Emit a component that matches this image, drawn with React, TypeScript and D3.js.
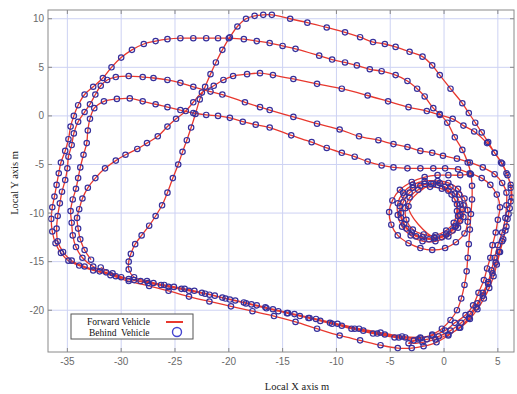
import React from 'react';
import * as d3 from 'd3';

// chart size / plot box
const W = 517,
  H = 394;
const box = { left: 48, right: 514, top: 10, bottom: 352 };

// axes
const xDomain = [-36.8, 6.5];
const yDomain = [-24.3, 10.9];
const xTicks = [-35, -30, -25, -20, -15, -10, -5, 0, 5];
const yTicks = [-20, -15, -10, -5, 0, 5, 10];

// trajectory, local metres [x, y]
const lap1 = [
  [-2.4, -23.0], [-4.2, -22.8], [-6.2, -22.4], [-8.3, -21.9], [-10.4, -21.4], [-12.5, -20.8],
  [-14.5, -20.3], [-16.5, -19.8], [-18.4, -19.3], [-20.3, -18.8], [-22.2, -18.3], [-24.1, -17.8],
  [-26.0, -17.4], [-27.6, -17.0], [-28.8, -16.6], [-29.3, -15.8], [-29.3, -15.0], [-29.1, -14.2],
  [-28.7, -13.2], [-28.1, -12.3], [-27.4, -11.3], [-26.8, -10.3], [-26.2, -9.2], [-25.7, -7.9],
  [-25.2, -6.4], [-24.7, -5.0], [-24.3, -3.7], [-23.9, -2.5], [-23.5, -1.2], [-23.1, 0.2],
  [-22.7, 1.7], [-22.2, 3.0], [-21.7, 4.3], [-21.2, 5.5], [-20.6, 6.8], [-19.9, 8.1],
  [-19.2, 9.2], [-18.4, 10.0], [-17.6, 10.3], [-16.8, 10.4], [-16.0, 10.4], [-14.3, 10.0],
  [-12.7, 9.6], [-10.9, 9.1], [-9.2, 8.6], [-7.8, 8.1], [-6.6, 7.6], [-5.5, 7.4],
  [-4.5, 7.1], [-3.2, 6.6], [-2.0, 6.1], [-1.1, 5.2], [-0.4, 4.2], [0.6, 2.8],
  [1.7, 1.3], [2.3, 0.3], [2.9, -0.7], [3.5, -1.7], [4.1, -2.7], [4.7, -3.8],
  [5.3, -4.8], [5.8, -5.9], [6.2, -7.1], [6.3, -8.4], [6.1, -9.5], [5.9, -10.6],
  [5.7, -11.8], [5.4, -12.9], [5.1, -14.0], [4.8, -15.1], [4.5, -16.2], [4.1, -17.3],
  [3.6, -18.5], [3.0, -19.7], [2.3, -20.8], [1.4, -21.8], [0.4, -22.6], [-0.7, -23.3],
  [-1.9, -23.7], [-3.0, -23.9], [-4.3, -23.9], [-5.9, -23.6], [-7.8, -23.1], [-9.7, -22.6],
  [-11.8, -21.9], [-13.8, -21.2], [-15.8, -20.6], [-17.8, -20.1], [-19.8, -19.6], [-21.8, -19.1],
  [-23.7, -18.6], [-25.6, -18.0], [-27.4, -17.5],
];

const lap2 = [
  [-29.3, -17.0], [-31.0, -16.4], [-32.6, -15.9], [-33.9, -15.4], [-34.9, -14.9], [-35.6, -14.1],
  [-36.1, -13.1], [-36.4, -11.9], [-36.5, -10.6], [-36.4, -9.4], [-36.2, -8.3], [-36.0, -7.1],
  [-35.8, -5.9], [-35.6, -4.8], [-35.2, -3.6], [-34.9, -2.4], [-34.7, -1.1], [-34.4, 0.0],
  [-34.0, 1.1], [-33.4, 2.2], [-32.6, 3.0], [-31.7, 3.9], [-30.9, 5.0], [-30.0, 6.0],
  [-29.0, 6.8], [-27.9, 7.4], [-26.8, 7.7], [-25.7, 7.9], [-24.5, 8.0], [-23.3, 8.0],
  [-22.1, 8.0], [-21.0, 8.0], [-20.0, 8.0], [-18.6, 7.9], [-17.4, 7.7], [-16.2, 7.5],
  [-15.0, 7.2], [-13.8, 6.9], [-11.6, 6.2], [-10.4, 5.8], [-9.2, 5.5], [-8.1, 5.2],
  [-6.9, 4.8], [-5.8, 4.6], [-4.5, 4.2], [-3.4, 3.6], [-2.5, 2.8], [-1.8, 2.0],
  [-1.0, 0.8], [-0.4, 0.2], [0.3, -0.7], [1.0, -2.2], [1.7, -3.5], [2.2, -4.8],
  [2.5, -6.0], [2.6, -7.2], [2.6, -8.6], [2.5, -10.1], [2.4, -11.7], [2.3, -13.2],
  [2.2, -14.6], [2.1, -16.0], [1.9, -17.4], [1.6, -18.8], [1.2, -20.0], [0.6, -21.0],
  [-0.2, -21.9], [-1.1, -22.5], [-2.2, -22.9], [-3.6, -22.8], [-5.5, -22.5], [-7.5, -22.1],
  [-9.5, -21.6], [-11.5, -21.1], [-13.4, -20.6], [-15.4, -20.1], [-17.4, -19.5], [-19.4, -19.0],
  [-21.3, -18.5], [-23.2, -18.0], [-25.1, -17.6], [-27.0, -17.2], [-28.8, -16.9], [-30.5, -16.5],
  [-32.0, -16.0],
];

const lap3 = [
  [-33.4, -15.5], [-34.6, -14.9], [-35.4, -14.0], [-35.9, -12.9], [-36.0, -11.6], [-35.9, -10.3],
  [-35.7, -9.0], [-35.5, -7.8], [-35.2, -6.6], [-35.0, -5.4], [-34.9, -4.2], [-34.6, -3.0],
  [-34.4, -1.8], [-34.0, -0.6], [-33.4, 0.4], [-32.9, 1.2], [-32.4, 2.2], [-31.9, 3.1],
  [-31.3, 3.7], [-30.5, 4.0], [-29.3, 4.1], [-28.0, 4.0], [-27.0, 3.9], [-25.7, 3.7],
  [-24.5, 3.4], [-23.3, 3.0], [-21.7, 2.5], [-20.6, 2.2], [-18.5, 1.4], [-17.1, 0.9],
  [-16.2, 0.6], [-14.0, -0.1], [-11.8, -0.8], [-9.7, -1.4], [-7.9, -2.1], [-6.1, -2.5],
  [-4.7, -2.9], [-3.4, -3.2], [-2.2, -3.6], [-1.1, -3.8], [-0.1, -4.1], [1.2, -4.4],
  [2.4, -4.8], [3.6, -5.3], [4.7, -6.0], [5.4, -6.9], [5.8, -7.9], [5.8, -9.2],
  [5.7, -10.5], [5.4, -12.0], [5.0, -13.3], [4.7, -14.6], [4.4, -15.9], [4.1, -17.1],
  [3.6, -18.2], [3.1, -19.3], [2.4, -20.4], [1.6, -21.3], [0.6, -22.1], [-0.5, -22.7],
  [-1.6, -23.0], [-2.8, -23.1], [-4.6, -22.8], [-6.6, -22.4], [-8.6, -21.9], [-10.6, -21.3],
  [-12.6, -20.8], [-14.6, -20.3], [-16.6, -19.7], [-18.6, -19.2], [-20.6, -18.7], [-22.5, -18.2],
  [-24.4, -17.8], [-26.3, -17.4], [-28.2, -17.0], [-30.0, -16.6], [-31.4, -16.1], [-32.6, -15.5],
];

const lap4 = [
  [-33.6, -14.6], [-34.2, -13.5], [-34.5, -12.3], [-34.6, -11.0], [-34.7, -9.8], [-34.5, -8.6],
  [-34.2, -7.5], [-34.0, -6.4], [-33.8, -5.3], [-33.5, -4.0], [-33.2, -2.8], [-33.1, -1.5],
  [-32.9, -0.3], [-32.5, 0.8], [-31.6, 1.5], [-30.4, 1.75], [-29.2, 1.8], [-28.0, 1.5],
  [-26.8, 1.2], [-25.7, 0.9], [-24.5, 0.6], [-23.3, 0.3], [-22.1, 0.1], [-21.0, 0.0],
  [-19.9, -0.2], [-18.7, -0.6], [-17.5, -0.9], [-16.2, -1.2], [-14.2, -2.0], [-12.3, -2.7],
  [-10.9, -3.3], [-9.5, -3.8], [-8.3, -4.2], [-7.1, -4.7], [-5.8, -5.1], [-4.7, -5.3],
  [-3.4, -5.4], [-2.2, -5.4], [-1.0, -5.4], [0.1, -5.4], [1.3, -5.5], [2.4, -5.9],
  [3.5, -6.4], [4.3, -7.1], [4.9, -8.1], [5.2, -9.4], [5.0, -10.7], [4.8, -12.0],
  [4.5, -13.3], [4.3, -14.6], [4.0, -15.7], [3.7, -16.9], [3.2, -18.2], [2.7, -19.5],
  [2.0, -20.5], [1.0, -21.3], [0.1, -22.1], [-1.1, -22.6], [-2.2, -22.8], [-3.9, -22.7],
  [-5.9, -22.3], [-7.9, -21.9], [-9.9, -21.4], [-11.9, -20.9], [-13.9, -20.4], [-15.9, -19.9],
  [-17.9, -19.4], [-19.9, -18.9], [-21.8, -18.4], [-23.7, -18.0], [-25.6, -17.6], [-27.5, -17.2],
  [-29.3, -16.8], [-30.8, -16.2], [-31.9, -15.6],
];

const lap5 = [
  [-32.8, -14.8], [-33.4, -13.8], [-33.8, -12.7], [-34.0, -11.6], [-34.1, -10.5], [-33.9, -9.6],
  [-33.6, -8.5], [-33.1, -7.4], [-32.4, -6.4], [-31.5, -5.4], [-30.5, -4.6], [-29.6, -4.0],
  [-28.5, -3.4], [-27.6, -2.8], [-26.6, -2.1], [-25.7, -1.1], [-24.9, -0.3], [-24.0, 0.5],
  [-23.3, 1.4], [-22.5, 2.4], [-21.4, 3.1], [-20.5, 3.7], [-19.6, 4.1], [-18.3, 4.3],
  [-17.1, 4.4], [-15.9, 4.2], [-14.0, 3.8], [-11.8, 3.3], [-9.5, 2.8], [-7.1, 2.1],
  [-5.2, 1.5], [-3.3, 0.9], [-1.6, 0.5], [-0.4, 0.1], [0.8, -0.3], [1.8, -1.0],
  [2.8, -1.6], [4.0, -2.8], [4.7, -3.8], [5.4, -4.9], [5.9, -6.1], [6.2, -7.4],
  [6.2, -8.8], [6.0, -10.1], [5.8, -11.4], [5.5, -12.7], [5.2, -14.0], [4.9, -15.3],
  [4.6, -16.5], [4.2, -17.7], [3.7, -18.8], [3.1, -19.9], [2.4, -20.9], [1.5, -21.8],
  [0.4, -22.5], [-0.8, -23.0], [-2.0, -23.3], [-3.3, -23.4],
];

const spiral = [
  [2.4, -6.0], [1.5, -6.1], [0.4, -6.1], [-0.6, -6.1], [-1.8, -6.3], [-3.0, -6.8],
  [-4.1, -7.6], [-4.8, -8.7], [-5.1, -9.9], [-4.9, -11.2], [-4.3, -12.3], [-3.3, -13.1],
  [-2.2, -13.6], [-1.1, -13.8], [0.1, -13.6], [1.1, -13.0], [1.9, -12.1], [2.2, -10.9],
  [2.2, -9.7], [1.9, -8.5], [1.3, -7.5], [0.4, -6.9], [-0.6, -6.7], [-1.8, -6.7],
  [-2.9, -7.1], [-3.8, -7.9], [-4.3, -9.0], [-4.3, -10.2], [-3.9, -11.4], [-3.1, -12.3],
  [-2.0, -12.9], [-0.8, -12.9], [0.4, -12.4], [1.3, -11.5], [1.8, -10.4], [1.8, -9.2],
  [1.4, -8.1], [0.6, -7.3], [-0.4, -6.9], [-1.2, -7.0], [-3.3, -9.3], [-0.9, -12.5],
  [0.2, -12.1], [1.1, -11.3], [1.5, -10.2], [1.5, -9.1], [1.0, -8.0], [0.1, -7.3],
  [-1.0, -7.0], [-2.2, -7.2], [-3.2, -7.9], [-3.8, -8.9], [-4.0, -10.0], [-3.7, -11.1],
  [-3.0, -12.0], [-2.0, -12.5], [-0.9, -12.6], [0.2, -12.2], [1.0, -11.4], [1.3, -10.3],
  [1.2, -9.1], [0.7, -8.1], [-0.2, -7.5], [-1.3, -7.3], [-2.4, -7.6], [-3.2, -8.4],
  [-3.6, -9.5], [-3.5, -10.7], [-2.9, -11.7], [-1.9, -12.2], [-0.8, -12.3], [0.2, -11.8],
  [0.9, -11.0], [1.2, -9.8], [1.0, -8.6], [0.4, -7.7], [-0.6, -7.1], [-1.8, -7.0],
  [-2.9, -7.4], [-3.7, -8.2], [-4.1, -9.3], [-4.0, -10.5], [-3.5, -11.6], [-2.6, -12.4],
  [-1.4, -12.7], [-0.2, -12.5], [0.8, -11.8], [1.5, -10.8], [1.7, -9.6],
];

const forwardTrack = [...lap5, ...lap1, ...lap2, ...lap3, ...lap4];
const tracks = [forwardTrack, spiral];

const RED = '#e8382e';
const BLUE = '#36309c';
const GRID = '#cdd2f3';
const AXIS = '#8a8a8a';
const sans = 'Liberation Sans, Arial, sans-serif';
const serif = 'Liberation Serif, Times New Roman, serif';

export default function App() {
  const x = d3.scaleLinear().domain(xDomain).range([box.left, box.right]);
  const y = d3.scaleLinear().domain(yDomain).range([box.bottom, box.top]);
  const line = d3
    .line<number[]>()
    .x((d) => x(d[0]))
    .y((d) => y(d[1]))
    .curve(d3.curveCatmullRom.alpha(0.5));

  return (
    <svg
      width={W}
      height={H}
      style={{ position: 'absolute', left: 0, top: 0, background: '#fff' }}
    >
      <defs>
        <clipPath id="plot">
          <rect x={box.left} y={box.top} width={box.right - box.left} height={box.bottom - box.top} />
        </clipPath>
      </defs>

      {/* GRID */}
      {xTicks.map((t) => (
        <line key={'gx' + t} x1={x(t)} x2={x(t)} y1={box.top} y2={box.bottom} stroke={GRID} />
      ))}
      {yTicks.map((t) => (
        <line key={'gy' + t} x1={box.left} x2={box.right} y1={y(t)} y2={y(t)} stroke={GRID} />
      ))}

      {/* TRACKS */}
      <g clipPath="url(#plot)">
        {tracks.map((tr, i) => (
          <path key={'l' + i} d={line(tr) || ''} fill="none" stroke={RED} strokeWidth={1.3} />
        ))}
        {tracks.map((tr, i) =>
          tr.map((p, j) => (
            <circle
              key={'c' + i + '-' + j}
              cx={x(p[0])}
              cy={y(p[1])}
              r={2.7}
              fill="none"
              stroke={BLUE}
              strokeWidth={1.2}
            />
          ))
        )}
      </g>

      {/* BOX + TICKS */}
      <rect
        x={box.left}
        y={box.top}
        width={box.right - box.left}
        height={box.bottom - box.top}
        fill="none"
        stroke={AXIS}
      />
      {xTicks.map((t) => (
        <g key={'tx' + t}>
          <line x1={x(t)} x2={x(t)} y1={box.bottom} y2={box.bottom - 4} stroke={AXIS} />
          <line x1={x(t)} x2={x(t)} y1={box.top} y2={box.top + 4} stroke={AXIS} />
          <text x={x(t)} y={365} textAnchor="middle" fontFamily={sans} fontSize={10} fill="#6a6a6a">
            {t}
          </text>
        </g>
      ))}
      {yTicks.map((t) => (
        <g key={'ty' + t}>
          <line x1={box.left} x2={box.left + 4} y1={y(t)} y2={y(t)} stroke={AXIS} />
          <line x1={box.right} x2={box.right - 4} y1={y(t)} y2={y(t)} stroke={AXIS} />
          <text x={44} y={y(t) + 3.5} textAnchor="end" fontFamily={sans} fontSize={10} fill="#6a6a6a">
            {t}
          </text>
        </g>
      ))}

      {/* AXIS LABELS */}
      <text x={297} y={390} textAnchor="middle" fontFamily={serif} fontSize={10.5} fill="#222">
        Local X axis m
      </text>
      <text
        transform="translate(18,183) rotate(-90)"
        textAnchor="middle"
        fontFamily={serif}
        fontSize={10.5}
        fill="#222"
      >
        Local Y axis m
      </text>

      {/* LEGEND */}
      <rect x={71} y={314} width={122} height={25} fill="#fff" stroke="#555" />
      <text x={87} y={325} fontFamily={serif} fontSize={9.5} fill="#111">
        Forward Vehicle
      </text>
      <text x={89} y={336} fontFamily={serif} fontSize={9.5} fill="#111" xmlSpace="preserve">
        Behind  Vehicle
      </text>
      <line x1={166} x2={183} y1={322} y2={322} stroke={RED} strokeWidth={2} />
      <circle cx={177} cy={332} r={4.5} fill="none" stroke="#4444d0" strokeWidth={1.4} />
    </svg>
  );
}
